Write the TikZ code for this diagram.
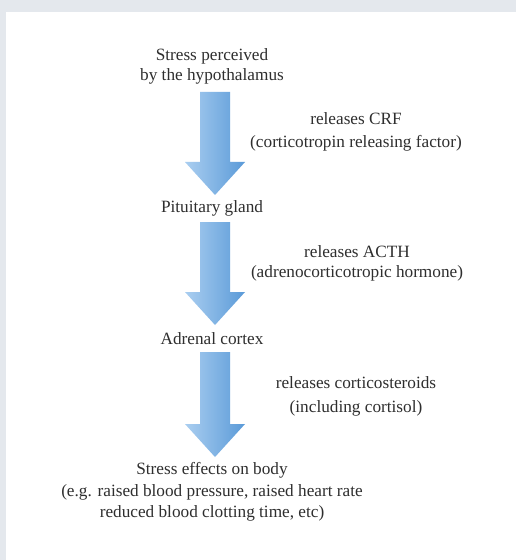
\documentclass[tikz,border=0pt]{standalone}
\usepackage{fontspec}
\setmainfont{Liberation Serif}
\usetikzlibrary{calc}
\definecolor{bandgray}{HTML}{E4E8ED}
\definecolor{txt}{HTML}{2E2E2E}
\definecolor{arrL}{HTML}{AACEF0}
\definecolor{arrR}{HTML}{5A9AD8}
\tikzset{
  lbl/.style={text=txt, font=\fontsize{17.3}{20}\selectfont, align=center, inner sep=0pt},
  blockarrow/.style={left color=arrL, right color=arrR, draw=none}
}
\newcommand\fatarrow[2]{%
  \path[blockarrow] let \p1=(#1), \p2=(#2) in
    ($(\x1,\y1)+(-15bp,0)$) -- ($(\x1,\y2)+(-15bp,33bp)$) -- ($(\x1,\y2)+(-30bp,33bp)$)
    -- (\x2,\y2) -- ($(\x1,\y2)+(30bp,33bp)$) -- ($(\x1,\y2)+(15bp,33bp)$)
    -- ($(\x1,\y1)+(15bp,0)$) -- cycle;}
\begin{document}
\begin{tikzpicture}[x=1bp,y=-1bp]
\useasboundingbox (0,0) rectangle (516,560);
\fill[bandgray] (0,0) rectangle (516,560);
\fill[white] (6,12) rectangle (516,560);
\node[lbl] (hyp) at (212,66) {Stress perceived\\by the hypothalamus};
\node[lbl] (pit) at (212,208) {Pituitary gland};
\node[lbl] (adr) at (212,339) {Adrenal cortex};
\node[lbl, font=\fontsize{17.3}{21.5}\selectfont] (eff) at (212,492) {Stress effects on body\\(e.g. raised blood pressure, raised heart rate\\reduced blood clotting time, etc)};
\node[lbl, font=\fontsize{17.3}{23}\selectfont] (crf) at (356,132) {releases CRF\\(corticotropin releasing factor)};
\node[lbl] (acth) at (357,263) {releases ACTH\\(adrenocorticotropic hormone)};
\node[lbl, font=\fontsize{17.3}{24}\selectfont] (cort) at (356,396) {releases corticosteroids\\(including cortisol)};
\coordinate (a1s) at (215,92);  \coordinate (a1e) at (215,195);
\coordinate (a2s) at (215,222); \coordinate (a2e) at (215,325);
\coordinate (a3s) at (215,352); \coordinate (a3e) at (215,457);
\fatarrow{a1s}{a1e}
\fatarrow{a2s}{a2e}
\fatarrow{a3s}{a3e}
\end{tikzpicture}
\end{document}
